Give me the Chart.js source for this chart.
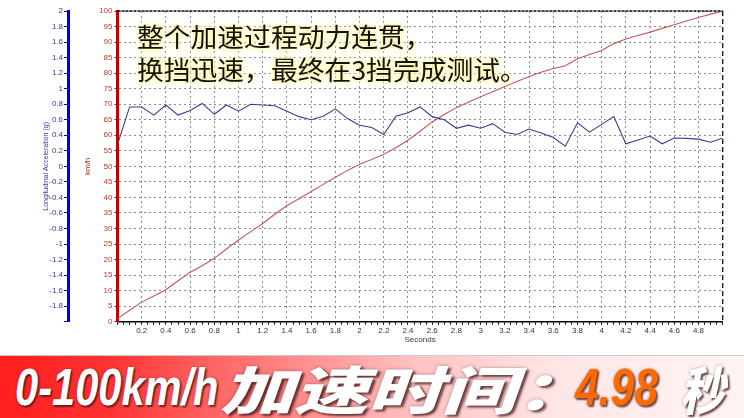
<!DOCTYPE html>
<html><head><meta charset="utf-8">
<script src="https://cdn.jsdelivr.net/npm/chart.js@4.4.0/dist/chart.umd.min.js"></script>
<style>
html,body{margin:0;padding:0;background:#fff;width:744px;height:418px;overflow:hidden;position:relative;font-family:"Liberation Sans",Arial,sans-serif;}
#wrap{position:absolute;left:0;top:0;width:744px;height:352px;}
#note{position:absolute;left:137px;top:19px;font-family:"Noto Sans CJK SC";font-size:26px;line-height:33px;color:#111;white-space:nowrap;
 transform:scaleX(1.03);transform-origin:left top;
 text-shadow:0 0 2px #fffbc8,0 0 4px #fff39a,0 0 6px #fff39a,0 0 9px #fff8cc;}
#banner{position:absolute;left:0;top:355px;width:744px;height:63px;border-top:1px solid #c8c8c8;
 background:linear-gradient(to right,#ff1e1e 0%,#ff3434 15%,#ff7a7a 35%,#ffc0c0 55%,#ffe6e6 75%,#fff4f4 100%);}
.bt{position:absolute;top:0;line-height:63px;font-family:"Liberation Sans","Noto Sans CJK SC",sans-serif;font-weight:900;font-style:italic;font-size:52px;color:#fff;white-space:nowrap;
 transform-origin:left center;
 text-shadow:2px 2px 2px rgba(70,20,20,.75),0 0 3px rgba(0,0,0,.35);}
</style></head>
<body>
<div id="wrap"><canvas id="c"></canvas></div>
<div id="note">整个加速过程动力连贯，<br>换挡迅速，最终在3挡完成测试。</div>
<div id="banner">
<span class="bt" style="left:15px;transform:scaleX(0.8)">0-100km/h</span>
<span class="bt" style="left:220px;font-family:'Noto Sans CJK SC';transform:scaleX(1.42)">加速时间：</span>
<span class="bt" style="left:575px;color:#ff6a00;transform:scaleX(0.82)">4.98</span>
<span class="bt" style="left:680px;font-family:'Noto Sans CJK SC';transform:scaleX(0.85)">秒</span>
</div>
<script>
// ---- data ----
const timeSec = [0,0.1,0.2,0.3,0.4,0.5,0.6,0.7,0.8,0.9,1.0,1.1,1.2,1.3,1.4,1.5,1.6,1.7,1.8,1.9,2.0,2.1,2.2,2.3,2.4,2.5,2.6,2.7,2.8,2.9,3.0,3.1,3.2,3.3,3.4,3.5,3.6,3.7,3.8,3.9,4.0,4.1,4.2,4.3,4.4,4.5,4.6,4.7,4.8,4.9,5.0];
const speedKmh = [1,3.7,6.3,8.3,10.3,13.2,15.9,18.0,20.4,23.4,26.3,29.0,31.6,34.6,37.4,39.6,41.9,44.2,46.5,48.7,50.7,52.2,53.9,56.0,58.4,61.3,64.3,66.7,68.9,70.7,72.4,74.0,75.7,77.3,78.9,80.3,81.5,82.4,84.6,86.0,87.3,89.5,91.0,92.1,93.2,94.4,95.6,96.8,97.9,99.0,100];
const accelG = [0.28,0.765,0.765,0.66,0.79,0.66,0.72,0.81,0.67,0.79,0.71,0.80,0.79,0.78,0.71,0.64,0.60,0.645,0.74,0.615,0.53,0.50,0.41,0.645,0.69,0.765,0.64,0.60,0.49,0.53,0.49,0.55,0.44,0.41,0.48,0.43,0.37,0.26,0.56,0.44,0.54,0.64,0.29,0.34,0.39,0.29,0.365,0.36,0.35,0.31,0.365];
const secondsTickLabels = ['0.2','0.4','0.6','0.8','1','1.2','1.4','1.6','1.8','2','2.2','2.4','2.6','2.8','3','3.2','3.4','3.6','3.8','4','4.2','4.4','4.6','4.8'];
const secondsRange = [0, 5];
const speedRange = [0, 100];
const accelRange = [-2, 2];

Chart.defaults.font.family = '"Liberation Sans", Arial, sans-serif';

const frame = {
  id: 'frame',
  afterDatasetsDraw(chart) {
    const {ctx, chartArea: {left, right, top, bottom}} = chart;
    ctx.save();
    ctx.strokeStyle = '#111';
    ctx.lineWidth = 1.5;
    ctx.setLineDash([3, 1]);
    ctx.beginPath(); ctx.moveTo(left, top); ctx.lineTo(right, top); ctx.stroke();
    ctx.lineWidth = 1.3;
    ctx.setLineDash([5, 3]);
    ctx.beginPath(); ctx.moveTo(right, top); ctx.lineTo(right, bottom); ctx.stroke();
    ctx.restore();
  }
};

function secLabel(v) {
  const s = String(Math.round(v * 10) / 10);
  return secondsTickLabels.includes(s) && Math.round(v * 100) % 20 === 0 ? s : '';
}

new Chart(document.getElementById('c'), {
  type: 'line',
  data: {
    datasets: [
      {
        label: 'Longitudinal Acceleration (g)',
        yAxisID: 'acc',
        data: timeSec.map((t, i) => ({x: t, y: accelG[i]})),
        borderColor: '#3c3c96',
        borderWidth: 1.1,
        pointRadius: 0,
        tension: 0
      },
      {
        label: 'km/h',
        yAxisID: 'spd',
        data: timeSec.map((t, i) => ({x: t, y: speedKmh[i]})),
        borderColor: '#c05a5a',
        borderWidth: 1.1,
        pointRadius: 0,
        tension: 0
      }
    ]
  },
  options: {
    responsive: true,
    maintainAspectRatio: false,
    animation: false,
    layout: {padding: {left: 0, top: 11, right: 21.3, bottom: 0}},
    plugins: {legend: {display: false}, tooltip: {enabled: false}},
    scales: {
      x: {
        type: 'linear', min: secondsRange[0], max: secondsRange[1],
        afterFit(s) { s.height = 30.3; },
        ticks: {stepSize: 0.05, autoSkip: false, maxRotation: 0, minRotation: 0, padding: 1,
          color: '#333', font: {size: 8}, callback: secLabel},
        grid: {
          color(ctx) {
            const k = Math.round(ctx.tick.value * 100);
            return (k % 20 === 0 && k > 0 && k < 500) ? '#8a8a8a' : 'rgba(0,0,0,0)';
          },
          tickColor: '#000', tickLength: 3, lineWidth: 1
        },
        border: {color: '#000', width: 1.5, dash: [2, 3]},
        title: {display: true, text: 'Seconds', color: '#333', font: {size: 8}, padding: {top: 0, bottom: 7}}
      },
      spd: {
        type: 'linear', position: 'left', weight: 0, min: speedRange[0], max: speedRange[1],
        afterFit(s) { s.width = 49.5; },
        ticks: {stepSize: 5, autoSkip: false, padding: 2, color: '#c0392b', font: {size: 8}},
        grid: {color: '#8a8a8a', tickColor: '#c00000', tickLength: 3, lineWidth: 1},
        border: {color: '#c00000', width: 3, dash: [2, 3]},
        title: {display: true, text: 'km/h', color: '#b03030', font: {size: 8}, padding: {top: 15, bottom: 0}}
      },
      acc: {
        type: 'linear', position: 'left', weight: 1, min: accelRange[0], max: accelRange[1],
        afterFit(s) { s.width = 68; },
        ticks: {stepSize: 0.2, autoSkip: false, padding: 1, color: '#3a3aa0', font: {size: 8},
          callback(v) { const r = Math.round(v * 10) / 10; return r === -2 ? '' : String(r); }},
        grid: {drawOnChartArea: false, tickColor: '#0000cc', tickLength: 4},
        border: {color: '#0000cc', width: 3},
        title: {display: true, text: 'Longitudinal Acceleration (g)', color: '#3a3aa0', font: {size: 7}, padding: {top: 42, bottom: 0}}
      }
    }
  },
  plugins: [frame]
});
</script>
</body></html>
